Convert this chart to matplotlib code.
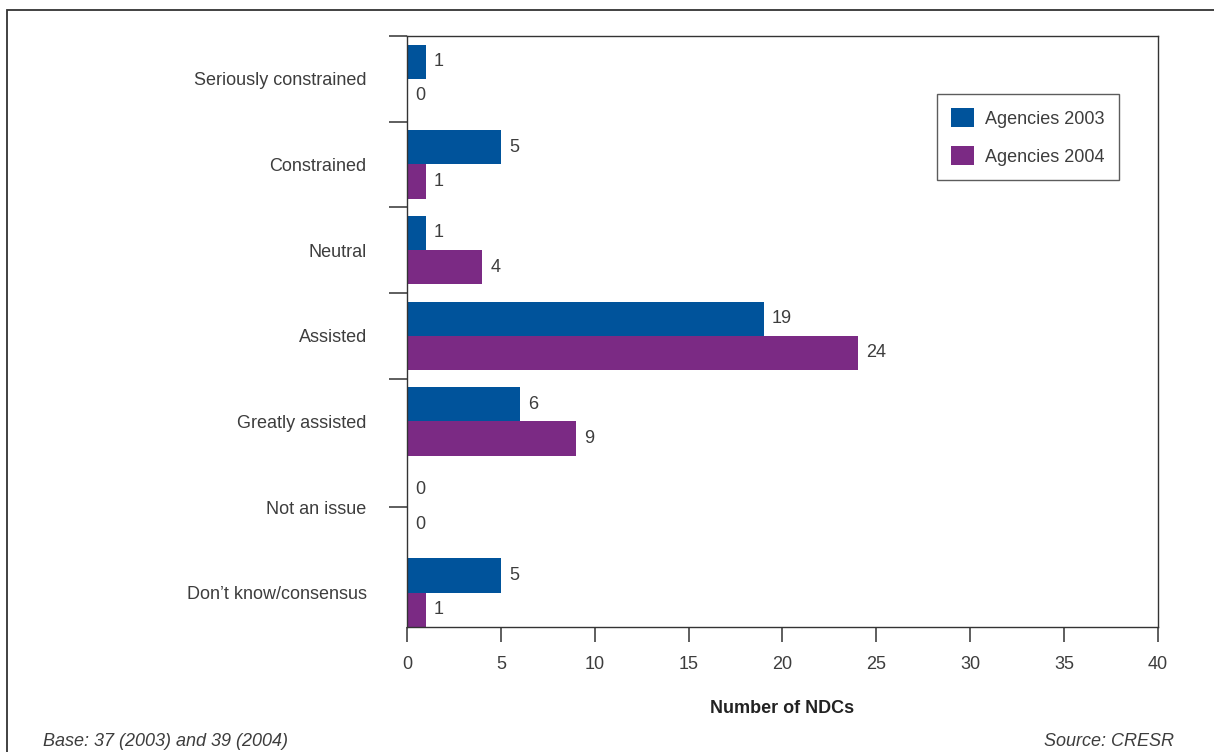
import matplotlib
matplotlib.use("Agg")
import matplotlib.pyplot as plt
from matplotlib.patches import Rectangle
import numpy as np

categories = ["Seriously constrained", "Constrained", "Neutral", "Assisted",
              "Greatly assisted", "Not an issue", "Don\u2019t know/consensus"]
agencies_2003 = [1, 5, 1, 19, 6, 0, 5]
agencies_2004 = [0, 1, 4, 24, 9, 0, 1]
x_ticks = [0, 5, 10, 15, 20, 25, 30, 35, 40]

BLUE = "#00539b"
PURPLE = "#7b2a84"
INK = "#3d3d3d"
EDGE = "#333333"
FS = 13

plt.rcParams["font.family"] = ["Liberation Sans", "DejaVu Sans"]
plt.rcParams["font.size"] = FS
plt.rcParams["text.color"] = INK

W, H = 1214, 752
fig = plt.figure(figsize=(W / 100, H / 100), dpi=100)
ax = fig.add_axes([407 / W, 1 - 627 / H, 751 / W, 591 / H])

y = np.arange(len(categories))
bh = 0.4
b1 = ax.barh(y - bh / 2, agencies_2003, height=bh, color=BLUE, label="Agencies 2003")
b2 = ax.barh(y + bh / 2, agencies_2004, height=bh, color=PURPLE, label="Agencies 2004")

for bars, vals in ((b1, agencies_2003), (b2, agencies_2004)):
    for rect, v in zip(bars, vals):
        ax.annotate(str(v), (v, rect.get_y() + rect.get_height() / 2),
                    xytext=(6, 0), textcoords="offset points",
                    ha="left", va="center", color=INK, fontsize=FS)

ax.set_xlim(0, 40)
ax.set_ylim(len(categories) - 0.6, -0.5)
ax.set_xticks(x_ticks)
ax.tick_params(axis="x", direction="out", length=11, width=1.1, color=EDGE,
               pad=10, labelcolor=INK, labelsize=FS)

# category names sit on minor ticks, the drawn tick marks separate the groups
ax.yaxis.remove_overlapping_locs = False
ax.set_yticks([-0.5, 0.5, 1.5, 2.5, 3.5, 5.0])
ax.set_yticklabels([])
ax.tick_params(axis="y", which="major", direction="out", length=13, width=1.1, color=EDGE)
ax.set_yticks(y, minor=True)
ax.set_yticklabels(categories, minor=True)
ax.tick_params(axis="y", which="minor", length=0, pad=29, labelcolor=INK, labelsize=FS)

for s in ax.spines.values():
    s.set_color(EDGE)
    s.set_linewidth(1.0)

ax.set_xlabel("Number of NDCs", fontweight="bold", fontsize=FS, labelpad=19, color="#222222")

leg = ax.legend(loc="upper left", bbox_to_anchor=(0.706, 0.902), borderaxespad=0,
                frameon=True, fancybox=False, handlelength=1.27, handleheight=1.27,
                handletextpad=0.62, labelspacing=1.0, borderpad=0.78, fontsize=FS)
leg.get_frame().set_edgecolor(EDGE)
leg.get_frame().set_linewidth(1.0)
for t in leg.get_texts():
    t.set_color(INK)

# page frame around the figure
fig.add_artist(Rectangle((7 / W, -0.1), 1.2, 1.1 - 10 / H, transform=fig.transFigure,
                         fill=False, edgecolor=EDGE, linewidth=1.3, clip_on=False))

fig.text(43 / W, 1 - 741 / H, "Base: 37 (2003) and 39 (2004)", style="italic",
         ha="left", va="center", fontsize=13, color=INK)
fig.text(1174 / W, 1 - 741 / H, "Source: CRESR", style="italic",
         ha="right", va="center", fontsize=13, color=INK)

fig.savefig("out.png", dpi=100)
